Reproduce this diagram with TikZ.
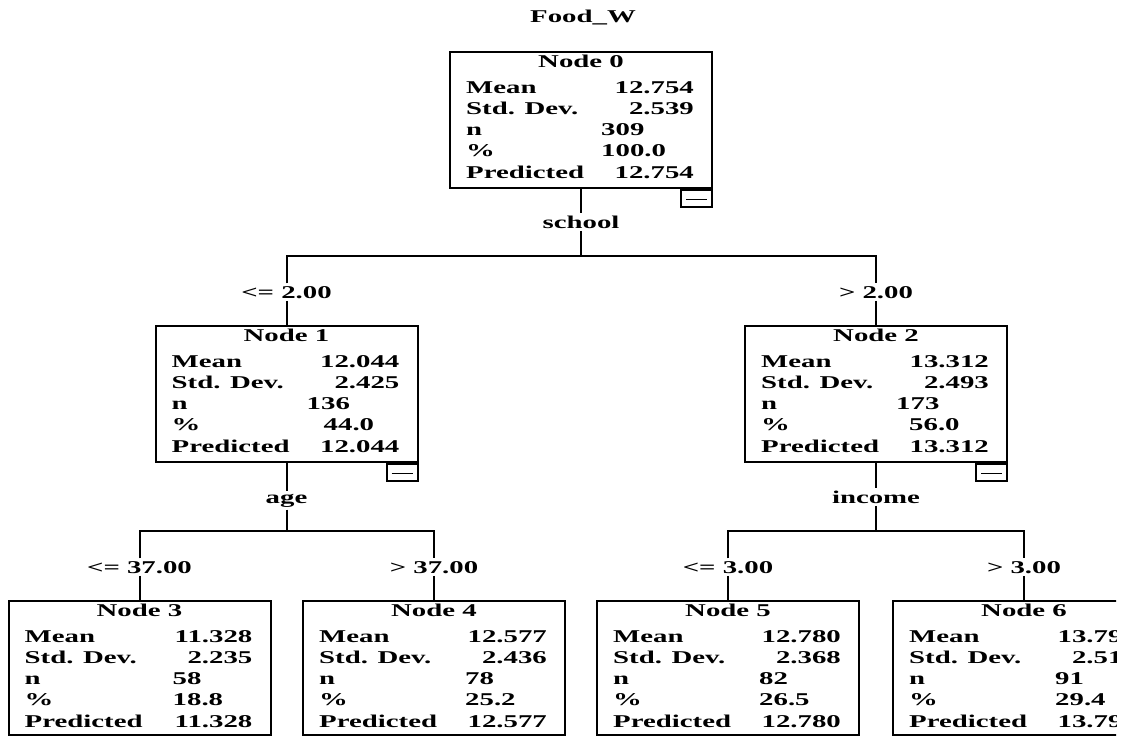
\documentclass[tikz,border=0pt]{standalone}
\usepackage{fontspec}
\newfontfamily\spss{Liberation Serif Bold}[FakeStretch=1.6]
\tikzset{
  txt/.style={font=\spss\fontsize{18}{21}\selectfont, inner sep=0pt},
  lbl/.style={font=\spss\fontsize{18}{21}\selectfont, inner sep=2.5pt},
  box/.style={draw, line width=2pt, minimum width=262pt, minimum height=136pt, inner sep=0pt},
  bbox/.style={box, minimum height=134pt},
  minus/.style={draw, line width=2pt, minimum width=31pt, minimum height=17pt, inner sep=0pt,
    path picture={\draw[line width=1pt] ([xshift=5pt,yshift=-0.5pt]path picture bounding box.west) -- ([xshift=-5pt,yshift=-0.5pt]path picture bounding box.east);}},
  conn/.style={line width=2pt}
}
\newcommand\nX{152}
\newcommand\pX{152}
\newcommand\TreeBox[7]{%
  \node[txt,anchor=base] (#1-t) at ([shift={(0,16)}]#1.north) {#2};
  \node[txt,anchor=base west] (#1-a) at ([shift={(17,42)}]#1.north west) {Mean};
  \node[txt,anchor=base east] (#1-av) at ([shift={(245,42)}]#1.north west) {#3};
  \node[txt,anchor=base west] (#1-b) at ([shift={(17,63)}]#1.north west) {Std. Dev.};
  \node[txt,anchor=base east] (#1-bv) at ([shift={(245,63)}]#1.north west) {#4};
  \node[txt,anchor=base west] (#1-c) at ([shift={(17,84)}]#1.north west) {n};
  \node[txt,anchor=base west] (#1-cv) at ([shift={(\nX,84)}]#1.north west) {#5};
  \node[txt,anchor=base west] (#1-d) at ([shift={(17,105)}]#1.north west) {\%};
  \node[txt,anchor=base west] (#1-dv) at ([shift={(\pX,105)}]#1.north west) {#6};
  \node[txt,anchor=base west] (#1-e) at ([shift={(17,127)}]#1.north west) {Predicted};
  \node[txt,anchor=base east] (#1-ev) at ([shift={(245,127)}]#1.north west) {#7};
}
\begin{document}
\begin{tikzpicture}[x=1pt,y=-1pt]
\fill[white] (0,0) rectangle (1124,736);
\useasboundingbox (0,0) rectangle (1124,736);
\begin{scope}
\clip (0,0) rectangle (1116,736);

\node[txt,anchor=base] (title) at (583,23) {Food\_W};

% boxes
\node[box] (n0) at (581,120) {};
\node[box] (n1) at (286.5,394) {};
\node[box] (n2) at (876,394) {};
\node[bbox] (n3) at (139.5,668) {};
\node[bbox] (n4) at (434,668) {};
\node[bbox] (n5) at (728,668) {};
\node[bbox] (n6) at (1024,668) {};

\node[minus,anchor=north east] (m0) at (n0.south east) {};
\node[minus,anchor=north east] (m1) at (n1.south east) {};
\node[minus,anchor=north east] (m2) at (n2.south east) {};

\renewcommand\nX{152}\renewcommand\pX{152}
\TreeBox{n0}{Node 0}{12.754}{2.539}{309}{100.0}{12.754}
\renewcommand\nX{152}\renewcommand\pX{169}
\TreeBox{n1}{Node 1}{12.044}{2.425}{136}{44.0}{12.044}
\renewcommand\nX{152}\renewcommand\pX{165}
\TreeBox{n2}{Node 2}{13.312}{2.493}{173}{56.0}{13.312}
\renewcommand\nX{165}\renewcommand\pX{165}
\TreeBox{n3}{Node 3}{11.328}{2.235}{58}{18.8}{11.328}
\renewcommand\nX{163}\renewcommand\pX{163}
\TreeBox{n4}{Node 4}{12.577}{2.436}{78}{25.2}{12.577}
\TreeBox{n5}{Node 5}{12.780}{2.368}{82}{26.5}{12.780}
\TreeBox{n6}{Node 6}{13.791}{2.518}{91}{29.4}{13.791}

% split labels
\node[lbl,anchor=base] (s0) at (581,228) {school};
\node[lbl,anchor=base] (s1) at (286.5,503) {age};
\node[lbl,anchor=base] (s2) at (876,503) {income};
\node[lbl,anchor=base] (l1) at (286.5,298) {<= 2.00};
\node[lbl,anchor=base] (l2) at (876,298) {> 2.00};
\node[lbl,anchor=base] (l3) at (139.5,573) {<= 37.00};
\node[lbl,anchor=base] (l4) at (434,573) {> 37.00};
\node[lbl,anchor=base] (l5) at (728,573) {<= 3.00};
\node[lbl,anchor=base] (l6) at (1024,573) {> 3.00};

\coordinate (j0) at (581,256);
\coordinate (j1) at (286.5,531);
\coordinate (j2) at (876,531);

% connectors
\draw[conn] (n0.south) -- (s0);
\draw[conn] (s0) -- (j0);
\draw[conn] (l1) |- (j0) -| (l2);
\draw[conn] (l1) -- (n1);
\draw[conn] (l2) -- (n2);

\draw[conn] (n1.south) -- (s1);
\draw[conn] (s1) -- (j1);
\draw[conn] (l3) |- (j1) -| (l4);
\draw[conn] (l3) -- (n3);
\draw[conn] (l4) -- (n4);

\draw[conn] (n2.south) -- (s2);
\draw[conn] (s2) -- (j2);
\draw[conn] (l5) |- (j2) -| (l6);
\draw[conn] (l5) -- (n5);
\draw[conn] (l6) -- (n6);
\end{scope}
\end{tikzpicture}
\end{document}
